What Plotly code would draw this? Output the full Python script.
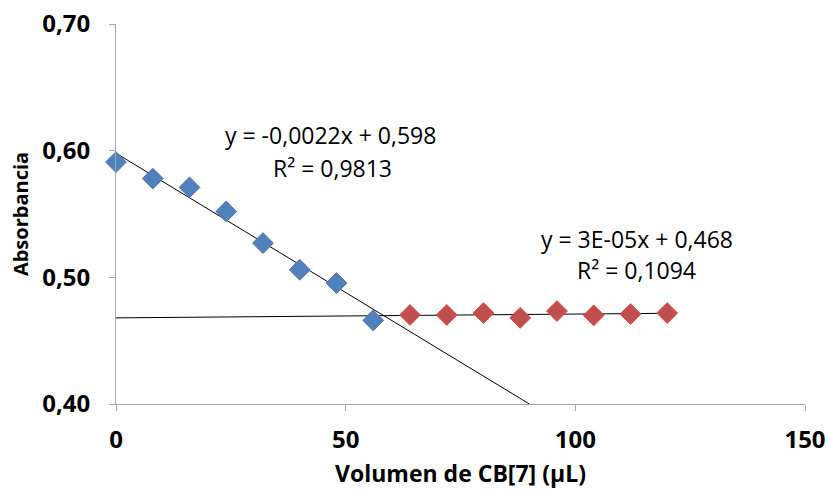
import plotly.graph_objects as go

# Titration data: absorbance vs added CB[7] volume
vol_a = [0, 8, 16, 24, 32, 40, 48, 56]
abs_a = [0.591, 0.578, 0.571, 0.552, 0.527, 0.506, 0.4955, 0.466]
vol_b = [64, 72, 80, 88, 96, 104, 112, 120]
abs_b = [0.4703, 0.4703, 0.4718, 0.4680, 0.4734, 0.4700, 0.4710, 0.4718]

# Linear trendlines (slope, intercept) and R²
fit_a = (-0.0022, 0.598, 0.9813)
fit_b = (3e-05, 0.468, 0.1094)
line_a_x = [0, 90]
line_b_x = [0, 120]

FONT = "Open Sans"

fig = go.Figure()

fig.add_trace(go.Scatter(
    x=line_a_x, y=[fit_a[0] * x + fit_a[1] for x in line_a_x],
    mode="lines", line=dict(color="black", width=1), showlegend=False,
    hoverinfo="skip"))
fig.add_trace(go.Scatter(
    x=line_b_x, y=[fit_b[0] * x + fit_b[1] for x in line_b_x],
    mode="lines", line=dict(color="black", width=1), showlegend=False,
    hoverinfo="skip"))

fig.add_trace(go.Scatter(
    x=vol_a, y=abs_a, mode="markers", showlegend=False, cliponaxis=False,
    marker=dict(symbol="diamond", size=16, color="#4F81BD",
                line=dict(color="#5B6FA8", width=1))))
fig.add_trace(go.Scatter(
    x=vol_b, y=abs_b, mode="markers", showlegend=False, cliponaxis=False,
    marker=dict(symbol="diamond", size=16, color="#C0504D",
                line=dict(color="#E0454A", width=1))))


def fmt(v, nd):
    return f"{v:.{nd}f}".replace(".", ",")


eq_font = dict(family=FONT, size=23, color="black")
fig.add_annotation(x=46.6, y=0.6124, xref="x", yref="y", showarrow=False,
                   text=f"y = {fmt(fit_a[0], 4)}x + {fmt(fit_a[1], 3)}",
                   font=eq_font, xanchor="center", yanchor="middle")
fig.add_annotation(x=47.2, y=0.5863, xref="x", yref="y", showarrow=False,
                   text=f"R² = {fmt(fit_a[2], 4)}",
                   font=eq_font, xanchor="center", yanchor="middle")
fig.add_annotation(x=113.4, y=0.5303, xref="x", yref="y", showarrow=False,
                   text=f"y = 3E-05x + {fmt(fit_b[1], 3)}",
                   font=eq_font, xanchor="center", yanchor="middle")
fig.add_annotation(x=113.4, y=0.5058, xref="x", yref="y", showarrow=False,
                   text=f"R² = {fmt(fit_b[2], 4)}",
                   font=eq_font, xanchor="center", yanchor="middle")

axis_common = dict(
    showgrid=False, zeroline=False, showline=True, linecolor="#A6A6A6",
    linewidth=1, ticks="outside", ticklen=6, tickcolor="#A6A6A6",
    automargin=False,
    tickfont=dict(family=FONT, size=24, color="black", weight="bold"),
)

fig.update_xaxes(range=[0, 150], tickvals=[0, 50, 100, 150],
                 ticklabelstandoff=8,
                 title=dict(text="Volumen de CB[7] (µL)", standoff=12,
                            font=dict(family=FONT, size=23, color="black",
                                      weight="bold")),
                 **axis_common)
fig.update_yaxes(range=[0.40, 0.70], tickvals=[0.40, 0.50, 0.60, 0.70],
                 tickformat=".2f", ticklabelstandoff=14,
                 title=dict(text="Absorbancia", standoff=8,
                            font=dict(family=FONT, size=20, color="black",
                                      weight="bold")),
                 **axis_common)

fig.update_layout(
    width=828, height=491, separators=", ",
    margin=dict(l=116, r=23, t=24, b=87),
    plot_bgcolor="white", paper_bgcolor="white",
)

fig.write_html("out.html")
